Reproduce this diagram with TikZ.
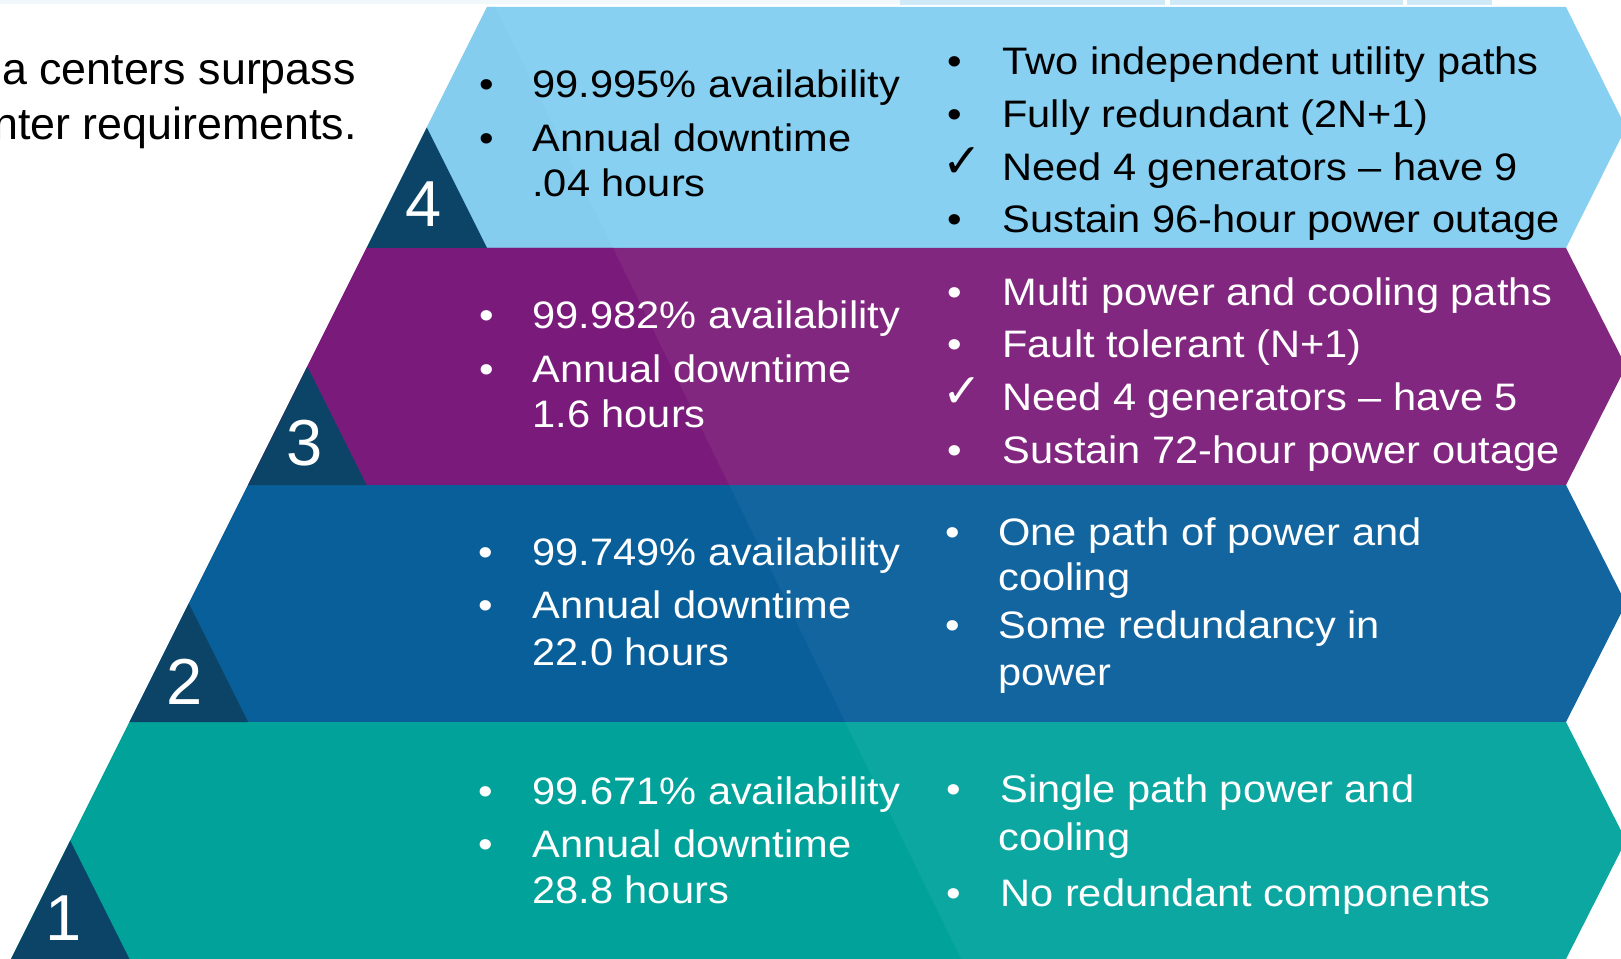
\documentclass[tikz,border=0pt]{standalone}
\usepackage{fontspec}
\setmainfont{Liberation Sans}
\newfontfamily\bandfont{Liberation Sans}[FakeStretch=1.086]
\newfontfamily\symfont{DejaVu Sans}

\definecolor{tierfour}{HTML}{88D0F1}
\definecolor{tierfourL}{HTML}{84CDEF}
\definecolor{tierthree}{HTML}{82277F}
\definecolor{tierthreeL}{HTML}{7A1B7C}
\definecolor{tiertwo}{HTML}{12659F}
\definecolor{tiertwoL}{HTML}{085F9A}
\definecolor{tierone}{HTML}{0CA7A0}
\definecolor{tieroneL}{HTML}{00A29A}
\definecolor{tierdark}{HTML}{0B4467}
\definecolor{stripblue}{HTML}{CFE9F6}

\begin{document}
\begin{tikzpicture}[x=0.02cm, y=-0.02cm,
    txt/.style={anchor=base west, inner sep=0pt, font=\bandfont\fontsize{21.8}{26}\selectfont},
    bul/.style={anchor=base, inner sep=0pt, font=\bandfont\fontsize{21.8}{26}\selectfont},
    tick/.style={anchor=base, inner sep=0pt, font=\symfont\fontsize{27}{30}\selectfont},
    num/.style={anchor=base, inner sep=0pt, text=white, font=\fontsize{37}{40}\selectfont},
    head/.style={anchor=base east, inner sep=0pt, font=\fontsize{25.5}{30}\selectfont}]

    \useasboundingbox (0,0) rectangle (1621,959);
    \clip (0,0) rectangle (1621,959);

    % left edge, shade edge and chevron points
    \coordinate (L0) at (487,7);
    \coordinate (L1) at (366.5,248);
    \coordinate (L2) at (248,485);
    \coordinate (L3) at (129.5,722);
    \coordinate (L4) at (11,959);
    \coordinate (D0) at (495,7);
    \coordinate (D1) at (613,248);
    \coordinate (D2) at (729,485);
    \coordinate (D3) at (845,722);
    \coordinate (D4) at (961,959);
    \coordinate (R0) at (1566,7);
    \coordinate (R1) at (1566,248);
    \coordinate (R2) at (1566,485);
    \coordinate (R3) at (1566,722);
    \coordinate (R4) at (1566,959);

    % strip at the top
    \fill[stripblue!30] (0,0) rectangle (900,4);
    \fill[stripblue] (900,0) rectangle (1165,5);
    \fill[stripblue] (1170,0) rectangle (1403,5);
    \fill[stripblue] (1407,0) rectangle (1492,5);

    % bands
    \fill[tierfour] (L0) -- (R0) -- (1626,127.5) -- (R1) -- (L1) -- cycle;
    \fill[tierfourL] (L0) -- (D0) -- (D1) -- (L1) -- cycle;
    \fill[tierthree] (L1) -- (R1) -- (1626,366.5) -- (R2) -- (L2) -- cycle;
    \fill[tierthreeL] (L1) -- (D1) -- (D2) -- (L2) -- cycle;
    \fill[tiertwo] (L2) -- (R2) -- (1626,603.5) -- (R3) -- (L3) -- cycle;
    \fill[tiertwoL] (L2) -- (D2) -- (D3) -- (L3) -- cycle;
    \fill[tierone] (L3) -- (R3) -- (1626,840.5) -- (R4) -- (L4) -- cycle;
    \fill[tieroneL] (L3) -- (D3) -- (D4) -- (L4) -- cycle;

    % tier triangles
    \fill[tierdark] (L1) -- (426.75,127.5) -- (487,248) -- cycle;
    \fill[tierdark] (L2) -- (307.25,366.5) -- (366.5,485) -- cycle;
    \fill[tierdark] (L3) -- (188.75,603.5) -- (248,722) -- cycle;
    \fill[tierdark] (L4) -- (70.25,840.5) -- (129.5,959) -- cycle;
    \node[num] (n4) at (424,227) {4};
    \node[num] (n3) at (305,465) {3};
    \node[num] (n2) at (185,704) {2};
    \node[num] (n1) at (64,940) {1};

    % heading
    \node[head] (h1) at (356,85) {a centers surpass};
    \node[head] (h2) at (357,140) {nter requirements.};

    % tier 4
    \node[bul] (b41) at (487,98) {•};
    \node[txt] (a41) at (532,98) {99.995\% availability};
    \node[bul] (b42) at (487,152) {•};
    \node[txt] (a42) at (532,152) {Annual downtime};
    \node[txt] (a43) at (532,197) {.04 hours};
    \node[bul] (c41) at (955,75) {•};
    \node[txt] (r41) at (1002,75) {Two independent utility paths};
    \node[bul] (c42) at (955,128) {•};
    \node[txt] (r42) at (1002,128) {Fully redundant (2N+1)};
    \node[tick] (c43) at (962,178) {✓};
    \node[txt] (r43) at (1002,181) {Need 4 generators – have 9};
    \node[bul] (c44) at (955,233) {•};
    \node[txt] (r44) at (1002,233) {Sustain 96-hour power outage};

    % tier 3
    \begin{scope}[text=white]
        \node[bul] (b31) at (487,328) {•};
        \node[txt] (a31) at (532,328) {99.982\% availability};
        \node[bul] (b32) at (487,382) {•};
        \node[txt] (a32) at (532,382) {Annual downtime};
        \node[txt] (a33) at (532,427) {1.6 hours};
        \node[bul] (c31) at (955,305) {•};
        \node[txt] (r31) at (1002,305) {Multi power and cooling paths};
        \node[bul] (c32) at (955,357) {•};
        \node[txt] (r32) at (1002,357) {Fault tolerant (N+1)};
        \node[tick] (c33) at (962,407) {✓};
        \node[txt] (r33) at (1002,410) {Need 4 generators – have 5};
        \node[bul] (c34) at (955,463) {•};
        \node[txt] (r34) at (1002,463) {Sustain 72-hour power outage};

        % tier 2
        \node[bul] (b21) at (486,565) {•};
        \node[txt] (a21) at (532,565) {99.749\% availability};
        \node[bul] (b22) at (486,618) {•};
        \node[txt] (a22) at (532,618) {Annual downtime};
        \node[txt] (a23) at (532,665) {22.0 hours};
        \node[bul] (c21) at (953,545) {•};
        \node[txt] (r21) at (998,545) {One path of power and};
        \node[txt] (r22) at (998,590) {cooling};
        \node[bul] (c22) at (953,638) {•};
        \node[txt] (r23) at (998,638) {Some redundancy in};
        \node[txt] (r24) at (998,685) {power};

        % tier 1
        \node[bul] (b11) at (486,804) {•};
        \node[txt] (a11) at (532,804) {99.671\% availability};
        \node[bul] (b12) at (486,857) {•};
        \node[txt] (a12) at (532,857) {Annual downtime};
        \node[txt] (a13) at (532,903) {28.8 hours};
        \node[bul] (c11) at (954,802) {•};
        \node[txt] (r11) at (1000,802) {Single path power and};
        \node[txt] (r12) at (998,850) {cooling};
        \node[bul] (c12) at (954,906) {•};
        \node[txt] (r13) at (1000,906) {No redundant components};
    \end{scope}
\end{tikzpicture}
\end{document}
